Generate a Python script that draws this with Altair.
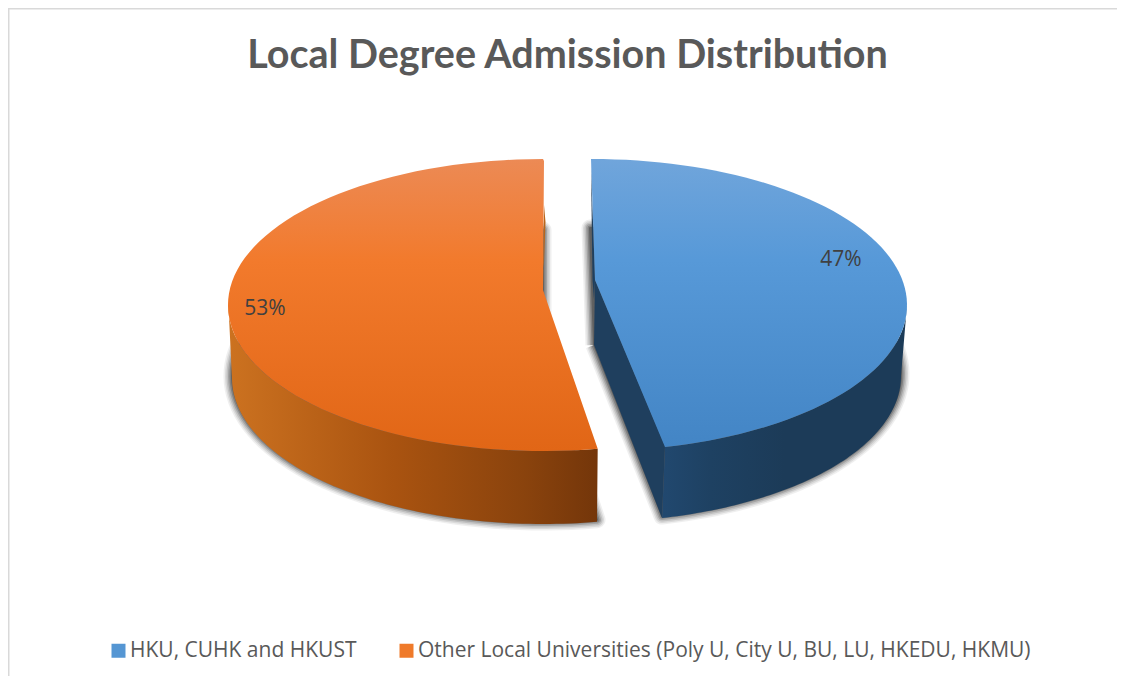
import math
import altair as alt
import pandas as pd

TITLE = "Local Degree Admission Distribution"
SLICES = ["HKU, CUHK and HKUST", "Other Local Universities (Poly U, City U, BU, LU, HKEDU, HKMU)"]
SHARES = [47, 53]
LEGEND_COLORS = ["#5596d3", "#ef7a2a"]

W, H = 1109, 668
PX0, PY0, RX, RY = 567.5, 305.0, 315.0, 146.0   # page position and radii of the unit circle


def ux(a):
    return (a - PX0) / RX


def uy(a):
    return (PY0 - a) / RY


XS = alt.Scale(domain=[ux(8), ux(8 + W)], nice=False, zero=False)
YS = alt.Scale(domain=[uy(8 + H), uy(8)], nice=False, zero=False)

# the view bends the true slice angles a little (perspective)
BLUE_END = 360 * SHARES[0] / 100 - 2.6
ORANGE_START = 360 - (360 * SHARES[1] / 100 + 0.75 - 1.55)


def arc(cx, cy, rx, ry, t0, t1, n=80):
    pts = []
    for i in range(n + 1):
        t = math.radians(t0 + (t1 - t0) * i / n)
        pts.append((cx + rx * math.sin(t), cy - ry * math.cos(t)))
    return pts


def frame(pts):
    return pd.DataFrame({"u": [ux(p[0]) for p in pts] + [ux(pts[0][0])],
                         "v": [uy(p[1]) for p in pts] + [uy(pts[0][1])],
                         "i": list(range(len(pts) + 1))})


def poly(pts, **mark):
    return alt.Chart(frame(pts)).mark_line(interpolate="linear", **mark).encode(
        x=alt.X("u:Q", scale=XS, axis=None),
        y=alt.Y("v:Q", scale=YS, axis=None),
        order="i:Q",
    )


def grad(stops, vertical=True):
    return alt.LinearGradient(
        gradient="linear",
        stops=[alt.GradientStop(offset=o, color=c) for o, c in stops],
        x1=0, y1=0, x2=0 if vertical else 1, y2=1 if vertical else 0,
    )


BX, OX = 592.0, 543.0
blue_top = [(595, 280)] + [(591, 159)] + arc(BX, PY0, RX, RY, 0, BLUE_END)
orange_top = [(543, 290)] + arc(OX, PY0, RX, RY, ORANGE_START, 360) + [(544, 161)]
blue_foot = [(594, 345)] + arc(590, 374, 311, RY, 0, BLUE_END)
orange_foot = [(543, 358)] + arc(OX, 376, 311, RY, ORANGE_START, 360)
blue_wall = arc(BX, PY0, RX, RY, 90, BLUE_END) + arc(590, 376, 311, RY, BLUE_END, 90)
orange_wall = arc(OX, PY0, RX, RY, ORANGE_START, 272) + arc(OX, 378, 311, RY, 270, ORANGE_START)
blue_cut = [(595, 280), (594, 345), (662, 518), (665, 446)]
blue_sliver = [(591, 165), (595, 280), (594, 300), (592.5, 280)]
orange_sliver = [(544, 205), (545.5, 222), (544, 262), (541, 287), (543, 290)]

layers = []

# border of the chart
layers.append(alt.Chart(pd.DataFrame({"a": [0]})).mark_rule(color="#d9d9d9", strokeWidth=3).encode(
    x=alt.value(0), y=alt.value(0), y2=alt.value(H)))
layers.append(alt.Chart(pd.DataFrame({"a": [0]})).mark_rule(color="#d9d9d9", strokeWidth=3).encode(
    y=alt.value(0), x=alt.value(0), x2=alt.value(W)))

# soft shadow under the slices
for sw, op in ((17, 0.07), (14, 0.1), (11, 0.14), (8, 0.2), (5, 0.28), (2, 0.4)):
    for foot in (blue_foot, orange_foot):
        layers.append(poly(foot, fill="#303030", stroke="#303030", strokeWidth=sw, strokeJoin="round",
                           opacity=op))

# walls
layers.append(poly(orange_wall, fill=grad([(0, "#cc7220"), (0.45, "#a95310"), (0.8, "#8a430d"), (1, "#74360a")], False),
                   strokeWidth=0))
layers.append(poly(blue_wall, fill=grad([(0, "#21486f"), (0.2, "#1e4162"), (0.5, "#1c3b58"), (1, "#1c3b58")], False),
                   strokeWidth=0))
layers.append(poly(blue_cut, fill="#1f3f5e", strokeWidth=0))
layers.append(poly(blue_sliver, fill="#1f3f5e", strokeWidth=0))
layers.append(poly(orange_sliver, fill="#b8661c", strokeWidth=0))

# legend carrier: hidden under the faces
legend_df = pd.DataFrame({"slice": SLICES, "u": [ux(700), ux(400)], "v": [uy(300), uy(300)]})
layers.append(alt.Chart(legend_df).mark_square(size=1, opacity=1).encode(
    x=alt.X("u:Q", scale=XS, axis=None),
    y=alt.Y("v:Q", scale=YS, axis=None),
    color=alt.Color("slice:N", scale=alt.Scale(domain=SLICES, range=LEGEND_COLORS),
                    legend=alt.Legend(orient="none", legendX=100, legendY=632, direction="horizontal",
                                      columns=2, title=None, symbolType="square", symbolSize=196,
                                      symbolStrokeWidth=0, labelFont="Open Sans", labelFontSize=21,
                                      labelColor="#595959", labelLimit=800, columnPadding=39,
                                      symbolOpacity=1, padding=0, labelOffset=1)),
))

# top faces
layers.append(poly(blue_top, fill=grad([(0, "#70a5db"), (0.35, "#5799d8"), (1, "#4385c5")]), strokeWidth=0))
layers.append(poly(orange_top, fill=grad([(0, "#ec8a55"), (0.35, "#f27a2c"), (1, "#e16616")]), strokeWidth=0))

# data labels
lab_df = pd.DataFrame({"t": [f"{SHARES[0]}%", f"{SHARES[1]}%"], "u": [ux(841), ux(265)], "v": [uy(260), uy(309)]})
layers.append(alt.Chart(lab_df).mark_text(font="Open Sans", fontSize=21, color="#404040").encode(
    x=alt.X("u:Q", scale=XS, axis=None),
    y=alt.Y("v:Q", scale=YS, axis=None),
    text="t:N",
))

chart = alt.layer(*layers).properties(
    width=W, height=H, padding=0, autosize=alt.AutoSizeParams(type="none"),
    title=alt.TitleParams(TITLE, orient="top", anchor="middle", offset=-70, dx=5, font="Lato", fontSize=39.5,
                          fontWeight="bold", color="#595959"),
).configure_view(stroke=None)

chart.save("out.html", embed_options={"renderer": "svg", "actions": False})
